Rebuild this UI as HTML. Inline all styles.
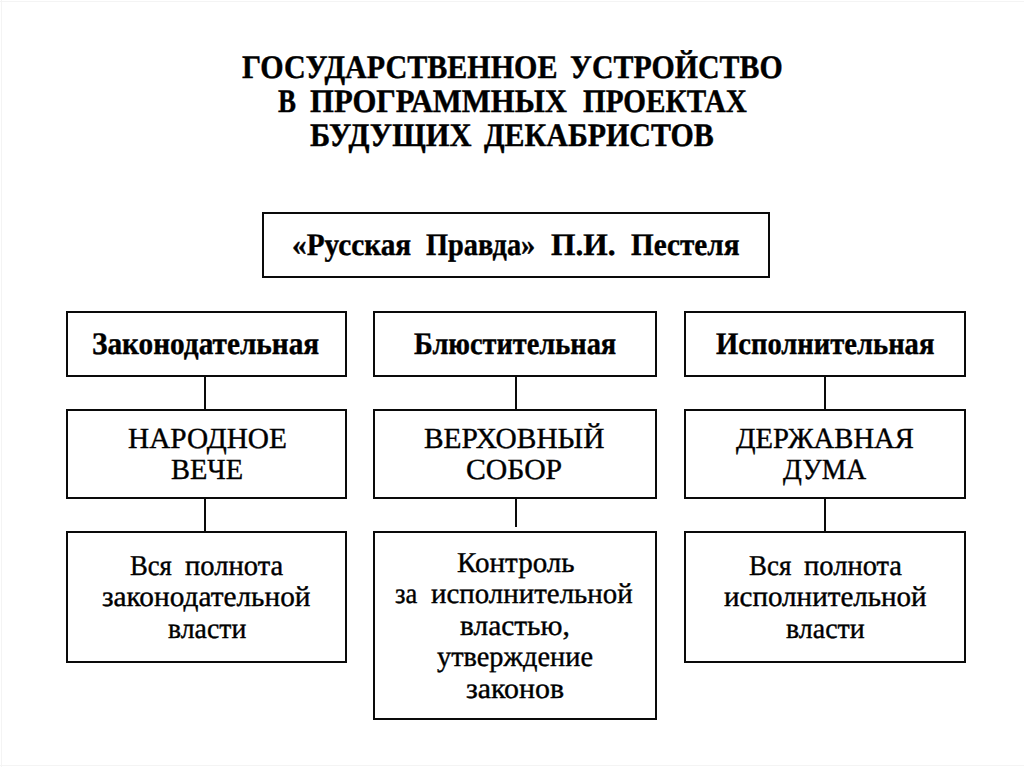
<!DOCTYPE html>
<html><head><meta charset="utf-8"><style>
html,body{margin:0;padding:0;background:#fff;}
body{width:1024px;height:767px;position:relative;overflow:hidden;}
.t{position:absolute;white-space:pre;font-family:"Liberation Serif",serif;color:#000;transform-origin:0 0;-webkit-text-stroke:0.4px #000;text-rendering:geometricPrecision;}
.b1{font-weight:bold;}
.b{position:absolute;border:2px solid #0a0a0a;}
.v{position:absolute;background:#0a0a0a;}
.f{position:absolute;background:#f4f4f4;}
</style></head><body>
<div class="f" style="left:1px;top:0;width:1px;height:767px"></div>
<div class="f" style="left:0;top:1px;width:1024px;height:1px"></div>
<div class="f" style="left:0;top:765px;width:1024px;height:1px"></div>
<div class="b" style="left:262px;top:212px;width:504px;height:62px"></div>
<div class="b" style="left:66px;top:311px;width:277px;height:62px"></div>
<div class="b" style="left:66px;top:409px;width:277px;height:86px"></div>
<div class="b" style="left:373px;top:311px;width:280px;height:62px"></div>
<div class="b" style="left:373px;top:409px;width:280px;height:86px"></div>
<div class="b" style="left:684px;top:311px;width:278px;height:62px"></div>
<div class="b" style="left:684px;top:409px;width:278px;height:86px"></div>
<div class="b" style="left:66px;top:531px;width:277px;height:128px"></div>
<div class="b" style="left:373px;top:531px;width:280px;height:185px"></div>
<div class="b" style="left:684px;top:531px;width:278px;height:128px"></div>
<div class="v" style="left:204px;top:377px;width:2px;height:32px"></div>
<div class="v" style="left:515px;top:377px;width:2px;height:32px"></div>
<div class="v" style="left:824px;top:377px;width:2px;height:32px"></div>
<div class="v" style="left:204px;top:499px;width:2px;height:32px"></div>
<div class="v" style="left:515px;top:499px;width:2px;height:28px"></div>
<div class="v" style="left:824px;top:499px;width:2px;height:32px"></div>
<span class="t b1" style="left:242.28px;top:52px;font-size:32.8px;line-height:32.8px;transform:scaleX(0.9163)">ГОСУДАРСТВЕННОЕ</span>
<span class="t b1" style="left:570.38px;top:52px;font-size:32.8px;line-height:32.8px;transform:scaleX(0.9112)">УСТРОЙСТВО</span>
<span class="t b1" style="left:278.26px;top:86px;font-size:32.8px;line-height:32.8px;transform:scaleX(0.8224)">В</span>
<span class="t b1" style="left:309.99px;top:86px;font-size:32.8px;line-height:32.8px;transform:scaleX(0.9361)">ПРОГРАММНЫХ</span>
<span class="t b1" style="left:582.68px;top:86px;font-size:32.8px;line-height:32.8px;transform:scaleX(0.8899)">ПРОЕКТАХ</span>
<span class="t b1" style="left:310.39px;top:120px;font-size:32.8px;line-height:32.8px;transform:scaleX(0.9303)">БУДУЩИХ</span>
<span class="t b1" style="left:484.08px;top:120px;font-size:32.8px;line-height:32.8px;transform:scaleX(0.9133)">ДЕКАБРИСТОВ</span>
<span class="t b1" style="left:291.76px;top:229px;font-size:31.5px;line-height:31.5px;transform:scaleX(0.9290)">«Русская</span>
<span class="t b1" style="left:425.98px;top:229px;font-size:31.5px;line-height:31.5px;transform:scaleX(0.8994)">Правда»</span>
<span class="t b1" style="left:551.10px;top:229px;font-size:31.5px;line-height:31.5px;transform:scaleX(0.9972)">П.И.</span>
<span class="t b1" style="left:630.79px;top:229px;font-size:31.5px;line-height:31.5px;transform:scaleX(0.9269)">Пестеля</span>
<span class="t b1" style="left:92.06px;top:328px;font-size:31.5px;line-height:31.5px;transform:scaleX(0.9294)">Законодательная</span>
<span class="t b1" style="left:413.88px;top:328px;font-size:31.5px;line-height:31.5px;transform:scaleX(0.9006)">Блюстительная</span>
<span class="t b1" style="left:715.78px;top:328px;font-size:31.5px;line-height:31.5px;transform:scaleX(0.9074)">Исполнительная</span>
<span class="t" style="left:127.70px;top:425px;font-size:29.2px;line-height:29.2px;transform:scaleX(1.0036)">НАРОДНОЕ</span>
<span class="t" style="left:171.29px;top:456px;font-size:29.2px;line-height:29.2px;transform:scaleX(0.9733)">ВЕЧЕ</span>
<span class="t" style="left:424.40px;top:425px;font-size:29.2px;line-height:29.2px;transform:scaleX(1.0070)">ВЕРХОВНЫЙ</span>
<span class="t" style="left:466.39px;top:456px;font-size:29.2px;line-height:29.2px;transform:scaleX(1.0183)">СОБОР</span>
<span class="t" style="left:735.50px;top:425px;font-size:29.2px;line-height:29.2px;transform:scaleX(0.9812)">ДЕРЖАВНАЯ</span>
<span class="t" style="left:783.39px;top:456px;font-size:29.2px;line-height:29.2px;transform:scaleX(0.9447)">ДУМА</span>
<span class="t" style="left:130.19px;top:552px;font-size:28.8px;line-height:28.8px;transform:scaleX(0.9253)">Вся</span>
<span class="t" style="left:185.10px;top:552px;font-size:28.8px;line-height:28.8px;transform:scaleX(0.9923)">полнота</span>
<span class="t" style="left:102.10px;top:583px;font-size:28.8px;line-height:28.8px;transform:scaleX(1.0179)">законодательной</span>
<span class="t" style="left:167.89px;top:615px;font-size:28.8px;line-height:28.8px;transform:scaleX(0.9651)">власти</span>
<span class="t" style="left:749.19px;top:552px;font-size:28.8px;line-height:28.8px;transform:scaleX(0.9342)">Вся</span>
<span class="t" style="left:803.90px;top:552px;font-size:28.8px;line-height:28.8px;transform:scaleX(0.9903)">полнота</span>
<span class="t" style="left:723.90px;top:583px;font-size:28.8px;line-height:28.8px;transform:scaleX(1.0085)">исполнительной</span>
<span class="t" style="left:786.19px;top:615px;font-size:28.8px;line-height:28.8px;transform:scaleX(0.9700)">власти</span>
<span class="t" style="left:456.70px;top:549px;font-size:28.8px;line-height:28.8px;transform:scaleX(1.0102)">Контроль</span>
<span class="t" style="left:394.58px;top:580px;font-size:28.8px;line-height:28.8px;transform:scaleX(0.9203)">за</span>
<span class="t" style="left:430.60px;top:580px;font-size:28.8px;line-height:28.8px;transform:scaleX(1.0035)">исполнительной</span>
<span class="t" style="left:460.00px;top:612px;font-size:28.8px;line-height:28.8px;transform:scaleX(1.0208)">властью,</span>
<span class="t" style="left:436.70px;top:643px;font-size:28.8px;line-height:28.8px;transform:scaleX(0.9839)">утверждение</span>
<span class="t" style="left:465.61px;top:675px;font-size:28.8px;line-height:28.8px;transform:scaleX(1.0383)">законов</span>
</body></html>
